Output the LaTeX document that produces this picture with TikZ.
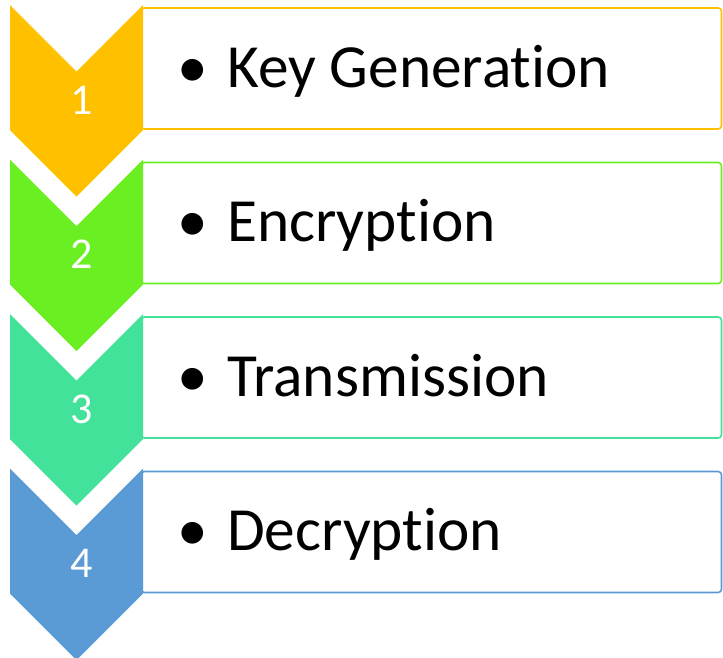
\documentclass[tikz,border=0pt]{standalone}
\usepackage{fontspec}
\setmainfont[Ligatures={NoCommon,NoContextual,NoRare}]{Carlito}
\definecolor{cOrange}{HTML}{FFC000}
\definecolor{cGreen}{HTML}{6AF022}
\definecolor{cTeal}{HTML}{42E29A}
\definecolor{cBlue}{HTML}{5B9BD5}
% keep "t" and "i" as separate glyphs
\newcommand\tiapart{t\kern0pt i}
\tikzset{
  stagebox/.style={draw=#1, line width=1.2pt, fill=white, rounded corners=2.5pt},
  chevronshape/.style={fill=#1, draw=none},
  numlabel/.style={text=white, font=\fontsize{33}{33}\selectfont, anchor=base, inner sep=0pt},
  bulletlabel/.style={font=\fontsize{46}{46}\selectfont, anchor=base, inner sep=0pt},
  itemlabel/.style={font=\fontsize{46}{46}\selectfont, anchor=base west, inner sep=0pt},
}
\begin{document}
\begin{tikzpicture}[x=0.75pt,y=-0.75pt]
\useasboundingbox (0,0) rectangle (723,657);
\foreach \t/\c/\n/\lbl in {5/cOrange/1/Key Genera\tiapart on,
                            159.5/cGreen/2/Encryp\tiapart on,
                            314/cTeal/3/Transmission,
                            468.5/cBlue/4/Decryp\tiapart on}{
  % text panel behind the chevron
  \draw[stagebox=\c] (141,\t+3) rectangle (721.5,\t+124);
  % downward chevron with the step number
  \fill[chevronshape=\c] (10,\t) -- (76.5,\t+66.5) -- (143,\t) -- (143,\t+125)
        -- (76.5,\t+191.5) -- (10,\t+125) -- cycle;
  \node[numlabel] (num\n) at (82,\t+109) {\n};
  \node[bulletlabel] (dot\n) at (193,\t+82) {•};
  \node[itemlabel] (item\n) at (227,\t+82) {\lbl};
}
\end{tikzpicture}
\end{document}
